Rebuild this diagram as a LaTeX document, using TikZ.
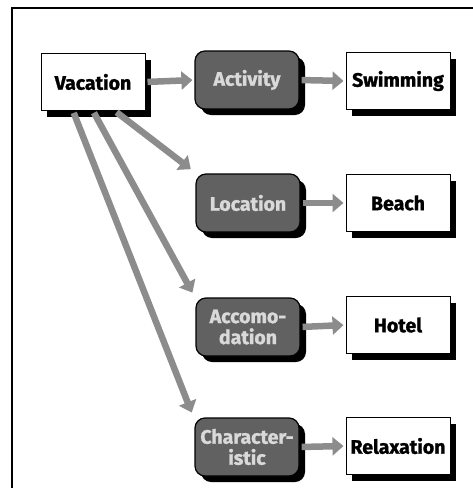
\documentclass[tikz,border=0pt]{standalone}
\usepackage{fontspec}
\setmainfont{Fira Sans}[BoldFeatures={FakeBold=1.3}]
\usetikzlibrary{shadows,arrows.meta}
\begin{document}
\begin{tikzpicture}[x=1pt,y=-1pt,
  lbl/.style={font=\bfseries\fontsize{19.5}{21}\selectfont, align=center, inner sep=0pt},
  plainbox/.style={lbl, draw=black, line width=1pt, fill=white, minimum width=104pt, minimum height=57pt,
    drop shadow={shadow xshift=6pt, shadow yshift=-6pt, fill=black, opacity=1}},
  darkbox/.style={lbl, draw=black, line width=1.2pt, fill=black!62, text=black!15, rounded corners=10pt,
    minimum width=104pt, minimum height=58pt,
    drop shadow={shadow xshift=6pt, shadow yshift=-6pt, fill=black, opacity=1}},
  fat/.style={draw=black!45, line width=6.5pt, -{Triangle[width=18pt,length=11pt]}, shorten >=2pt, shorten <=2pt}
]
\useasboundingbox (0,0) rectangle (473,488);
\draw[line width=1.5pt] (12,488) -- (12,8) -- (473,8);

\node[plainbox] (vac) at (93,82) {Vacation};
\node[darkbox] (act) at (247,80) {Activity};
\node[darkbox] (loc) at (248,203) {Location};
\node[darkbox] (acc) at (248,327) {Accomo-\\dation};
\node[darkbox] (cha) at (247,447) {Character-\\istic};
\node[plainbox] (swi) at (398,81) {Swimming};
\node[plainbox] (bea) at (398,203) {Beach};
\node[plainbox] (hot) at (398,325) {Hotel};
\node[plainbox] (rel) at (398,446) {Relaxation};

\draw[fat] (vac.east) -- (act.west);
\draw[fat] (act.east) -- (swi.west);
\draw[fat] (loc.east) -- (bea.west);
\draw[fat] (acc.east) -- (hot.west);
\draw[fat] (cha.east) -- (rel.west);

\draw[fat] ([xshift=22pt]vac.south) -- ([xshift=-3pt,yshift=3pt]loc.north west);
\draw[fat] (vac.south) -- ([xshift=-2pt,yshift=3pt]acc.north west);
\draw[fat] ([xshift=-20pt]vac.south) -- ([xshift=-2pt,yshift=3pt]cha.north west);
\end{tikzpicture}
\end{document}
